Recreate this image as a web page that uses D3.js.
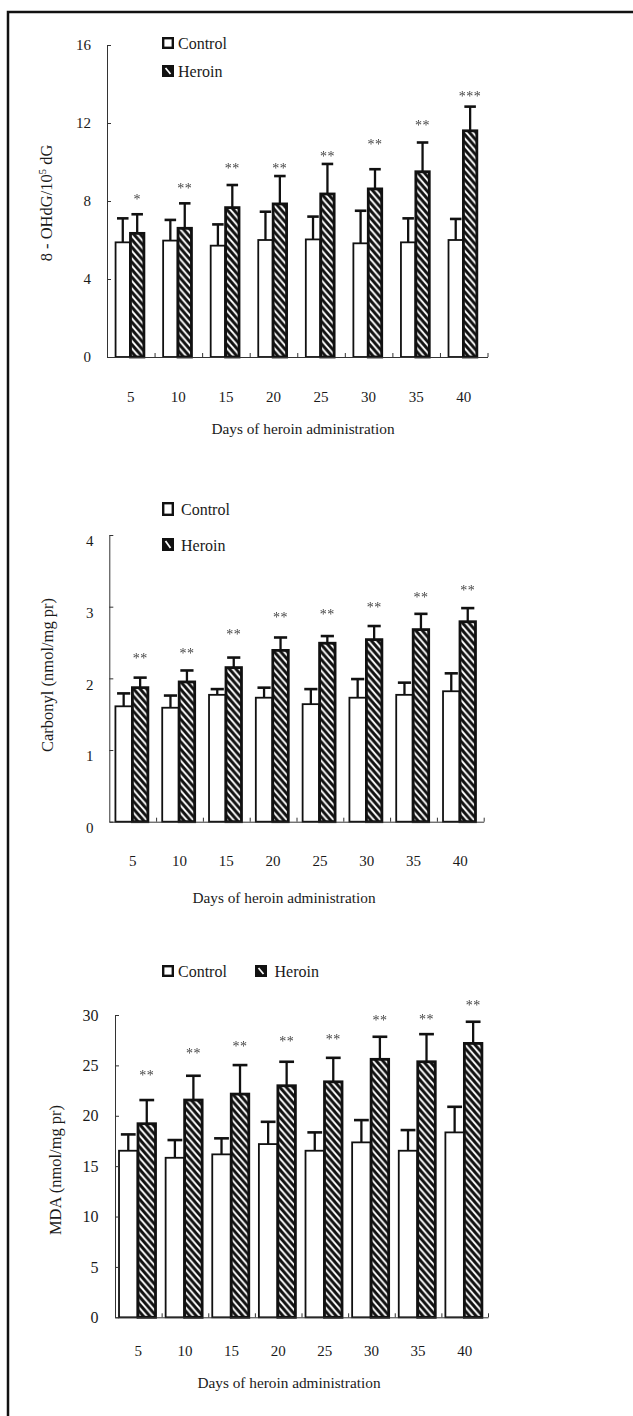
<!DOCTYPE html>
<html><head><meta charset="utf-8">
<script src="https://cdn.jsdelivr.net/npm/d3@7"></script>
<style>body{margin:0;background:#fff} svg{display:block} text{font-family:"Liberation Serif","Times New Roman",serif;fill:#1a1a1a}</style>
</head><body>
<svg id="c" width="633" height="1416"></svg>
<script>
// ---------------- DATA ----------------
const days = ["5","10","15","20","25","30","35","40"];
const seriesNames = ["Control","Heroin"];

const ohdgControl   = [5.88,5.97,5.71,6.00,6.03,5.83,5.88,6.00];
const ohdgControlSD = [1.23,1.06,1.09,1.45,1.17,1.67,1.23,1.08];
const ohdgHeroin    = [6.34,6.60,7.66,7.85,8.36,8.62,9.50,11.60];
const ohdgHeroinSD  = [0.98,1.28,1.16,1.43,1.54,1.01,1.50,1.24];
const ohdgSig       = ["*","**","**","**","**","**","**","***"];
const ohdgSigAt     = [8.19,8.73,9.76,9.76,10.36,10.99,11.98,13.44];
const ohdgTicks     = [0,4,8,12,16];

const carbControl   = [1.61,1.59,1.77,1.73,1.64,1.73,1.77,1.82];
const carbControlSD = [0.18,0.17,0.08,0.14,0.21,0.26,0.17,0.25];
const carbHeroin    = [1.87,1.95,2.15,2.39,2.49,2.54,2.68,2.79];
const carbHeroinSD  = [0.14,0.16,0.14,0.18,0.10,0.19,0.22,0.19];
const carbSig       = ["**","**","**","**","**","**","**","**"];
const carbSigAt     = [2.30,2.38,2.64,2.88,2.92,3.02,3.15,3.26];
const carbTicks     = [0,1,2,3,4];

const mdaControl    = [16.53,15.83,16.17,17.19,16.53,17.36,16.53,18.35];
const mdaControlSD  = [1.62,1.76,1.59,2.21,1.82,2.21,2.05,2.54];
const mdaHeroin     = [19.21,21.56,22.15,22.98,23.37,25.60,25.36,27.18];
const mdaHeroinSD   = [2.35,2.41,2.88,2.38,2.38,2.24,2.74,2.15];
const mdaSig        = ["**","**","**","**","**","**","**","**"];
const mdaSigAt      = [24.2,26.35,27.11,27.58,27.78,29.66,29.8,31.15];
const mdaTicks      = [0,5,10,15,20,25,30];

const xTitle = "Days of heroin administration";

// ---------------- DRAW ----------------
const svg = d3.select("#c");
const defs = svg.append("defs");
const pat = defs.append("pattern").attr("id","hatch")
  .attr("patternUnits","userSpaceOnUse").attr("width",6.5).attr("height",7.5);
pat.append("rect").attr("width",6.5).attr("height",7.5).attr("fill","#fff");
pat.append("path").attr("d","M-1,-1.15L7.5,8.65M-1,6.35L1,8.65M5.5,-1.15L7.5,1.15")
  .attr("stroke","#111").attr("stroke-width",3);
const gray = defs.append("filter").attr("id","gray")
  .attr("x","-20%").attr("y","-20%").attr("width","140%").attr("height","140%");
gray.append("feColorMatrix").attr("type","saturate").attr("values",0);

svg.append("rect").attr("x",8).attr("y",12).attr("width",700).attr("height",1500)
  .attr("fill","none").attr("stroke","#111").attr("stroke-width",2.5);

function stext(g, x, y, str, size, anchor){
  return g.append("text").attr("x",x).attr("y",y)
    .attr("text-anchor",anchor||"middle")
    .style("font-size",size+"px").text(str);
}

const charts = [
  { ctrl:ohdgControl, ctrlSD:ohdgControlSD, her:ohdgHeroin, herSD:ohdgHeroinSD,
    sig:ohdgSig, sigAt:ohdgSigAt, ticks:ohdgTicks,
    x0:107, x1:487.5, y0:357, yTop:45, padOuter:0.65,
    lblRight:91, lblDy:5.3, lblSize:15,
    yTitle:"ohdg", yTitleX:52, yTitleY:203,
    titleX:303, titleY:434, tickY:402,
    legend:{x:162, w:12, rows:[{y:37,h:12,ty:48.5,tx:178},{y:65,h:12,ty:76.5,tx:178}]} },
  { ctrl:carbControl, ctrlSD:carbControlSD, her:carbHeroin, herSD:carbHeroinSD,
    sig:carbSig, sigAt:carbSigAt, ticks:carbTicks,
    x0:109.3, x1:483.7, y0:821.7, yTop:535, padOuter:0.42,
    lblRight:93.5, lblDy:11.2, lblSize:15,
    yTitle:"Carbonyl (nmol/mg pr)", yTitleX:52.6, yTitleY:675,
    titleX:284, titleY:903, tickY:866,
    legend:{x:162, w:12, rows:[{y:502,h:14,ty:514.5,tx:181},{y:538,h:13,ty:550.5,tx:181}]} },
  { ctrl:mdaControl, ctrlSD:mdaControlSD, her:mdaHeroin, herSD:mdaHeroinSD,
    sig:mdaSig, sigAt:mdaSigAt, ticks:mdaTicks,
    x0:115, x1:488, y0:1317.3, yTop:1015, padOuter:0.26,
    lblRight:98.6, lblDy:5.6, lblSize:16,
    yTitle:"MDA (nmol/mg pr)", yTitleX:61, yTitleY:1170,
    titleX:289, titleY:1388, tickY:1356,
    legend:{x:162, w:12, rows:[{y:965,h:12,ty:976.5,tx:178},{y:965,h:12,ty:976.5,tx:274.5,bx:255}]} }
];

charts.forEach(c => {
  const g = svg.append("g");
  const yMax = c.ticks[c.ticks.length-1];
  const y = d3.scaleLinear().domain([0,yMax]).range([c.y0,c.yTop]);
  const x = d3.scaleBand().domain(days).range([c.x0,c.x1]).padding(0);
  const xs = d3.scaleBand().domain(seriesNames).range([0,x.bandwidth()])
    .paddingInner(0).paddingOuter(c.padOuter);
  const bw = xs.bandwidth();

  const rows = days.map((d,i)=>({d, c:c.ctrl[i], cs:c.ctrlSD[i], h:c.her[i], hs:c.herSD[i], sig:c.sig[i], sa:c.sigAt[i]}));
  const grp = g.selectAll("g.grp").data(rows).join("g").attr("class","grp")
    .attr("transform", r=>`translate(${x(r.d)-0.8},0)`);

  // error bars (upward only)
  function err(sel, key, sdKey, name){
    sel.append("line")
      .attr("x1", xs(name)+bw/2).attr("x2", xs(name)+bw/2)
      .attr("y1", r=>y(r[key])).attr("y2", r=>y(r[key]+r[sdKey]))
      .attr("stroke","#111").attr("stroke-width",2.3);
    sel.append("line")
      .attr("x1", xs(name)+bw*0.1).attr("x2", xs(name)+bw*0.9)
      .attr("y1", r=>y(r[key]+r[sdKey])).attr("y2", r=>y(r[key]+r[sdKey]))
      .attr("stroke","#111").attr("stroke-width",2.6);
  }
  err(grp,"c","cs","Control");
  err(grp,"h","hs","Heroin");

  grp.append("rect").attr("x", xs("Control")).attr("width", bw)
    .attr("y", r=>y(r.c)).attr("height", r=>y(0)-y(r.c))
    .attr("fill","#fff").attr("stroke","#111").attr("stroke-width",1.8);
  grp.append("rect").attr("x", xs("Heroin")+0.5).attr("width", bw-1)
    .attr("y", r=>y(r.h)).attr("height", r=>y(0)-y(r.h))
    .attr("fill","url(#hatch)").attr("stroke","#111").attr("stroke-width",2.8);

  // significance stars
  grp.append("text")
    .attr("x", xs("Heroin")+bw/2).attr("y", r=>y(r.sa)+6.5)
    .attr("text-anchor","middle").attr("filter","url(#gray)")
    .style("font-size","14px").style("fill","#444")
    .style("letter-spacing","0.5px").text(r=>r.sig);

  // y axis
  const ya = g.append("g").attr("transform",`translate(${c.x0},0)`)
    .call(d3.axisRight(y).tickValues(c.ticks).tickSize(4).tickSizeOuter(0).tickFormat(""));
  ya.selectAll("path,line").attr("stroke","#333").attr("stroke-width",1);
  c.ticks.forEach(t => stext(g, c.lblRight, y(t)+c.lblDy, String(t), c.lblSize, "end"));

  // x axis with ticks at category boundaries
  const xb = d3.scaleLinear().domain([0,days.length]).range([c.x0,c.x1]);
  const xa = g.append("g").attr("transform",`translate(0,${c.y0})`)
    .call(d3.axisTop(xb).tickValues(d3.range(1,days.length+1)).tickSize(4).tickSizeOuter(0).tickFormat(""));
  xa.selectAll("path,line").attr("stroke","#333").attr("stroke-width",1);
  days.forEach(d => stext(g, x(d)+x.bandwidth()/2, c.tickY, d, 15, "middle"));

  // x title
  stext(g, c.titleX, c.titleY, xTitle, 15.3, "middle");

  // y title
  const yt = g.append("text")
    .attr("transform",`translate(${c.yTitleX},${c.yTitleY}) rotate(-90)`)
    .attr("text-anchor","middle").style("font-size","16.5px");
  if (c.yTitle === "ohdg") {
    yt.append("tspan").text("8 - OHdG/10");
    yt.append("tspan").attr("dy",-6).style("font-size","10.5px").text("5");
    yt.append("tspan").attr("dy",6).text(" dG");
  } else {
    yt.text(c.yTitle);
  }

  // legend
  c.legend.rows.forEach((r,i) => {
    const bx = r.bx !== undefined ? r.bx : c.legend.x;
    if (i === 0) {
      g.append("rect").attr("x",bx+1.2).attr("y",r.y+1.2).attr("width",c.legend.w-2.4).attr("height",r.h-2.4)
        .attr("fill","#fff").attr("stroke","#111").attr("stroke-width",2.4);
    } else {
      g.append("rect").attr("x",bx).attr("y",r.y).attr("width",c.legend.w).attr("height",r.h).attr("fill","#111");
      g.append("line").attr("x1",bx+3.5).attr("y1",r.y+3).attr("x2",bx+c.legend.w-3.5).attr("y2",r.y+r.h-3)
        .attr("stroke","#fff").attr("stroke-width",1.8);
    }
    stext(g, r.tx, r.ty, seriesNames[i], 16, "start");
  });
});
</script>
</body></html>
